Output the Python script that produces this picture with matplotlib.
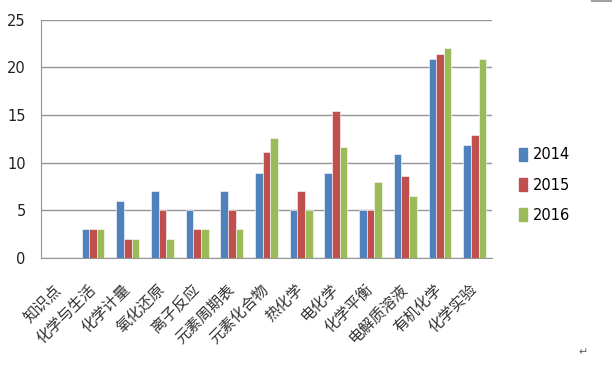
import numpy as np
import matplotlib
matplotlib.use('Agg')
import matplotlib.pyplot as plt
import matplotlib.patches as mpatches
from matplotlib.lines import Line2D

categories = ['知识点', '化学与生活', '化学计量', '氧化还原', '离子反应', '元素周期表',
              '元素化合物', '热化学', '电化学', '化学平衡', '电解质溶液', '有机化学', '化学实验']
years = ['2014', '2015', '2016']
v2014 = [0, 3, 6, 7, 5, 7, 8.9, 5, 8.9, 5, 10.9, 20.9, 11.9]
v2015 = [0, 3, 2, 5, 3, 5, 11.1, 7, 15.4, 5, 8.6, 21.4, 12.9]
v2016 = [0, 3, 2, 2, 3, 3, 12.6, 5, 11.7, 8, 6.5, 22, 20.9]
colors = ['#4F81BD', '#C0504D', '#9BBB59']

fig = plt.figure(figsize=(6.12, 3.68), dpi=100)
ax = fig.add_axes([0.067, 0.299, 0.737, 0.647])

x = np.arange(len(categories))
w = 0.22
for i, (vals, c) in enumerate(zip([v2014, v2015, v2016], colors)):
    ax.bar(x + (i - 1) * w, vals, width=w, color=c, edgecolor='white', linewidth=0.4,
           zorder=3, label=years[i])

ax.set_xlim(-0.5, len(categories) - 0.5)
ax.set_ylim(0, 25)
ax.set_yticks([0, 5, 10, 15, 20, 25])
ax.yaxis.grid(True, color='#969696', linewidth=1, zorder=0)
for s in ['top', 'right']:
    ax.spines[s].set_visible(False)
ax.spines['left'].set_color('#969696')
ax.spines['bottom'].set_color('#969696')
ax.tick_params(axis='y', length=0, pad=11, labelsize=10.5, labelcolor='#222222')
ax.tick_params(axis='x', length=0, pad=21)
ax.set_xticks(x)
ax.set_xticklabels(categories, rotation=45, ha='right', va='center', rotation_mode='anchor',
                   fontsize=11, family=['Noto Sans CJK SC', 'DejaVu Sans'], color='#333333')

handles = [mpatches.Patch(color=c, label=y) for c, y in zip(colors, years)]
fig.legend(handles=handles, loc='center left', bbox_to_anchor=(0.826, 0.497),
           frameon=False, fontsize=10.5, labelspacing=1.05, handlelength=0.6,
           handleheight=1.0, handletextpad=0.35)

fig.text(0.945, 0.035, '↵', fontsize=8, color='#666666')
fig.add_artist(Line2D([0.968, 1.0], [0.998, 0.998], color='#a0a0a0', linewidth=1.5))

fig.savefig('out.png', dpi=100)
